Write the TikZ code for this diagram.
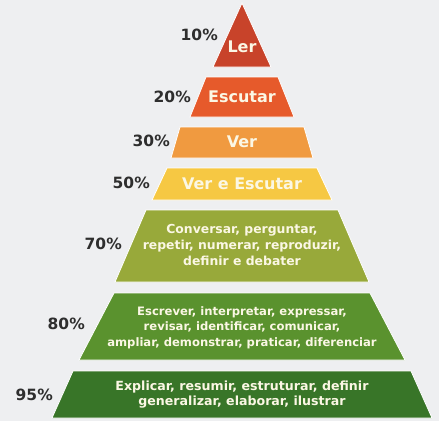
\documentclass[tikz,border=0pt]{standalone}
\usepackage{fontspec}
\setmainfont{DejaVu Sans}
\definecolor{bg}{HTML}{EEEFF1}
\definecolor{cA}{HTML}{C8432A}
\definecolor{cB}{HTML}{E65A2B}
\definecolor{cC}{HTML}{F09A40}
\definecolor{cD}{HTML}{F6C843}
\definecolor{cE}{HTML}{98A93A}
\definecolor{cF}{HTML}{5A922E}
\definecolor{cG}{HTML}{387528}
\definecolor{txt}{HTML}{FBF7E4}
\definecolor{pct}{HTML}{2E2E2E}
\begin{document}
\begin{tikzpicture}[x=1pt,y=-1pt,
  tier/.style={draw=white,line width=0.8pt,line join=miter},
  bigtxt/.style={text=txt,font=\fontsize{16}{18}\selectfont\bfseries,inner sep=0pt},
  smalltxt/.style={text=txt,align=center,inner sep=0pt},
  pcttxt/.style={text=pct,font=\fontsize{15.5}{18}\selectfont\bfseries,inner sep=0pt,anchor=east}]
\fill[bg] (0,0) rectangle (439,421);
\useasboundingbox (0,0) rectangle (439,421);
% tiers
\filldraw[tier,fill=cA] (242,3) -- (271,67) -- (213,67) -- cycle;
\filldraw[tier,fill=cB] (206,77) -- (278,77) -- (294,117) -- (190,117) -- cycle;
\filldraw[tier,fill=cC] (180,127) -- (304,127) -- (313,158) -- (171,158) -- cycle;
\filldraw[tier,fill=cD] (167,168) -- (317,168) -- (332,200) -- (152,200) -- cycle;
\filldraw[tier,fill=cE] (146,210) -- (338,210) -- (369,282) -- (115,282) -- cycle;
\filldraw[tier,fill=cF] (114,293) -- (370,293) -- (405,360) -- (79,360) -- cycle;
\filldraw[tier,fill=cG] (73,371) -- (411,371) -- (432,418) -- (52,418) -- cycle;
% labels
\node[bigtxt] (t1) at (242,47) {Ler};
\node[bigtxt] (t2) at (242,97) {Escutar};
\node[bigtxt] (t3) at (242,142) {Ver};
\node[bigtxt] (t4) at (242,184) {Ver e Escutar};
\node[smalltxt,font=\fontsize{12.4}{15.7}\selectfont\bfseries] (t5) at (242,245) {Conversar, perguntar,\\repetir, numerar, reproduzir,\\definir e debater};
\node[smalltxt,font=\fontsize{11.6}{15.5}\selectfont\bfseries] (t6) at (242,327.5) {Escrever, interpretar, expressar,\\revisar, identificar, comunicar,\\ampliar, demonstrar, praticar, diferenciar};
\node[smalltxt,font=\fontsize{12.6}{15}\selectfont\bfseries] (t7) at (242,394.5) {Explicar, resumir, estruturar, definir\\generalizar, elaborar, ilustrar};
% percentages
\node[pcttxt] (p1) at (218,35) {10\%};
\node[pcttxt] (p2) at (191,97) {20\%};
\node[pcttxt] (p3) at (170,141) {30\%};
\node[pcttxt] (p4) at (150,183) {50\%};
\node[pcttxt] (p5) at (122,244) {70\%};
\node[pcttxt] (p6) at (85,324) {80\%};
\node[pcttxt] (p7) at (53,395) {95\%};
\end{tikzpicture}
\end{document}
